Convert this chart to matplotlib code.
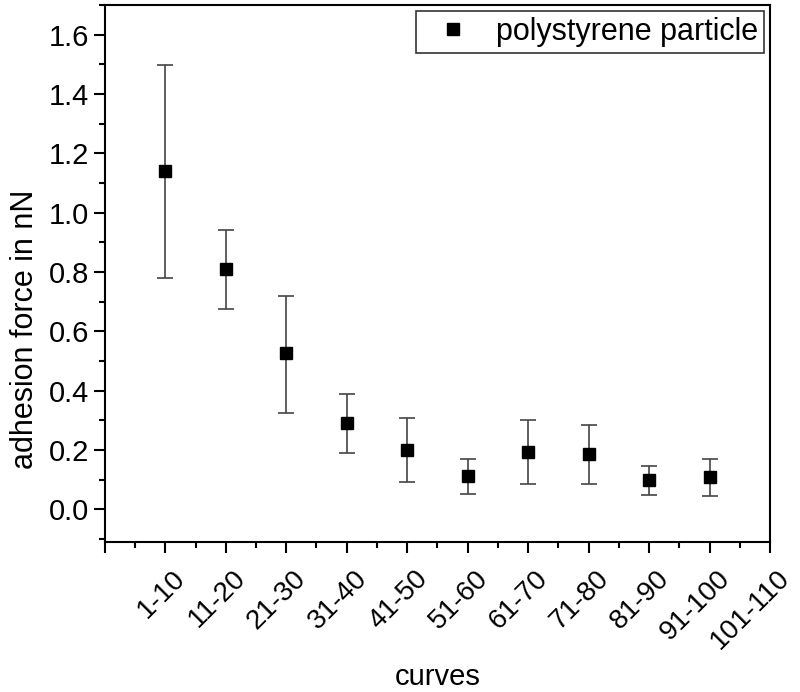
import matplotlib
matplotlib.use("Agg")
import matplotlib.pyplot as plt
import matplotlib.transforms as mtransforms
from matplotlib.ticker import MultipleLocator

# Data
categories = ["1-10", "11-20", "21-30", "31-40", "41-50", "51-60",
              "61-70", "71-80", "81-90", "91-100", "101-110"]
force = [1.14, 0.81, 0.525, 0.29, 0.20, 0.112, 0.193, 0.186, 0.097, 0.108]
err_low = [0.36, 0.135, 0.20, 0.10, 0.108, 0.06, 0.108, 0.10, 0.05, 0.064]
err_high = [0.357, 0.13, 0.195, 0.098, 0.106, 0.058, 0.107, 0.098, 0.05, 0.06]

plt.rcParams["font.family"] = ["Liberation Sans", "DejaVu Sans"]

fig = plt.figure(figsize=(8, 6.92), dpi=100)
ax = fig.add_axes([0.131, 0.217, 0.8315, 0.776])

positions = list(range(1, len(force) + 1))
ax.errorbar(positions, force, yerr=[err_low, err_high], fmt="none",
            ecolor="#444444", elinewidth=1.2, capsize=6, capthick=1.2)
ax.plot(positions, force, "s", color="black", markersize=9,
        label="polystyrene particle")

ax.set_xlim(0, 11)
ax.set_ylim(-0.11, 1.70)
ax.set_xticks(range(0, 12))
ax.set_xticklabels([""] + categories, rotation=45, ha="right",
                   rotation_mode="anchor", fontsize=20)
ax.xaxis.set_minor_locator(MultipleLocator(0.5))
ax.set_yticks([0.0, 0.2, 0.4, 0.6, 0.8, 1.0, 1.2, 1.4, 1.6])
ax.set_yticklabels(["0.0", "0.2", "0.4", "0.6", "0.8", "1.0", "1.2", "1.4", "1.6"])
ax.yaxis.set_minor_locator(MultipleLocator(0.1))

ax.tick_params(which="major", direction="out", length=8, width=1.5, labelsize=21)
ax.tick_params(which="minor", direction="out", length=4, width=1.5)
ax.tick_params(axis="x", labelsize=20, pad=9)
for s in ax.spines.values():
    s.set_linewidth(1.5)

ax.set_xlabel("curves", fontsize=21)
ax.xaxis.set_label_coords(0.5, -0.226)
ax.set_ylabel("adhesion force in nN", fontsize=22)
ax.yaxis.set_label_coords(-0.097, 0.395)

leg = ax.legend(loc="upper right", fontsize=22, frameon=True, fancybox=False,
                edgecolor="black", handletextpad=0.4, borderpad=0.2,
                borderaxespad=0.2, handlelength=2.0)
leg.get_frame().set_linewidth(1.2)

# shift x tick labels slightly right like the reference
offset = mtransforms.ScaledTranslation(0.07, 0.0, fig.dpi_scale_trans)
for lbl in ax.get_xticklabels():
    lbl.set_transform(lbl.get_transform() + offset)

plt.savefig("out.png", dpi=100)
plt.close()
